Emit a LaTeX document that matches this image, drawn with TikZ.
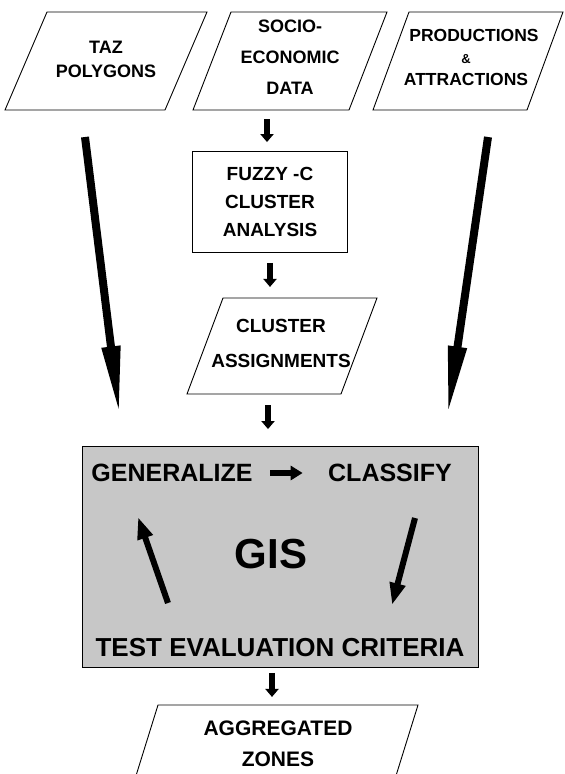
\documentclass[tikz,border=0pt]{standalone}
\usepackage{fontspec}
\setmainfont{Liberation Sans}
\usetikzlibrary{calc}
\usetikzlibrary{arrows.meta}
\usetikzlibrary{positioning}

\tikzset{
  iotext/.style={inner sep=0pt, align=center,
    font=\bfseries\fontsize{18}{24}\selectfont},
  ioframe/.style={line width=0.9pt, line join=miter},
  procbox/.style={rectangle, draw, line width=0.9pt, minimum width=155pt,
    minimum height=101pt, align=center,
    font=\bfseries\fontsize{19}{28}\selectfont},
  gisbox/.style={rectangle, draw, line width=0.9pt, fill=black!22,
    minimum width=396pt, minimum height=221pt},
  gistext/.style={font=\bfseries\fontsize{25}{30}\selectfont},
  stubarrow/.style={line width=6pt, -{Triangle[length=8pt,width=13pt]}},
  fatarrow/.style={line width=8pt, -{Triangle[length=70pt,width=17pt]}},
  looparrow/.style={line width=6pt, -{Triangle[length=22pt,width=15pt]}},
}

\begin{document}
\begin{tikzpicture}[x=1pt,y=-1pt]
  \useasboundingbox (0,0) rectangle (565,774);
  \clip (0,0) rectangle (565,774);

  % input data
  \node[iotext] (taz) at (106,59) {TAZ\\POLYGONS};
  \node[iotext, font=\bfseries\fontsize{18}{31}\selectfont]
    (socio) at (290,57) {SOCIO-\\ECONOMIC\\DATA};
  \node[iotext, font=\bfseries\fontsize{17.5}{22}\selectfont]
    (prod) at (466,57) {\hspace*{16pt}PRODUCTIONS\\{\fontsize{13}{13}\selectfont\&}\\ATTRACTIONS};

  % clustering
  \node[procbox] (fuzzy) at (270,202) {FUZZY -C\\CLUSTER\\ANALYSIS};
  \node[iotext, font=\bfseries\fontsize{19}{35}\selectfont]
    (assign) at (281,343) {CLUSTER\\ASSIGNMENTS};

  % GIS loop
  \node[gisbox] (gis) at (280,557) {};
  \node[gistext] (gen) at (172,473) {GENERALIZE};
  \node[gistext] (class) at (390,473) {CLASSIFY};
  \node[font=\bfseries\fontsize{42}{42}\selectfont] (gisname) at (271,554) {GIS};
  \node[font=\bfseries\fontsize{26}{30}\selectfont] (test) at (280,648)
    {TEST EVALUATION CRITERIA};

  % output
  \node[iotext, font=\bfseries\fontsize{21}{31}\selectfont]
    (agg) at (278,744) {AGGREGATED\\ZONES};

  % parallelogram frames: centre / half side / half height / half slant
  \foreach \cx/\cy/\w/\h/\s in {106/61/80/49/21, 290/61/78/49/19,
      468/61/77/49/18, 282/346/77/48/18, 274/750/130/45/14}
    \draw[ioframe] (\cx-\w+\s,\cy-\h) -- (\cx+\w+\s,\cy-\h)
      -- (\cx+\w-\s,\cy+\h) -- (\cx-\w-\s,\cy+\h) -- cycle;

  % flow
  \draw[stubarrow] ($(fuzzy.north)+(-3,-32)$) -- ($(fuzzy.north)+(-3,-9)$);
  \draw[stubarrow] ($(fuzzy.south)+(0,10)$) -- ($(fuzzy.south)+(0,34)$);
  \draw[stubarrow] ($(gis.north)+(-12,-41)$) -- ($(gis.north)+(-12,-17)$);
  \draw[stubarrow] ($(gis.south)+(-8,5)$) -- ($(gis.south)+(-8,29)$);

  \draw[fatarrow] ($(taz)+(-21,78)$) -- ($(gis.north west)+(38,-30)$);
  \draw[fatarrow] ($(prod)+(22,80)$) -- ($(gis.north east)+(-31,-30)$);

  \draw[line width=6pt, -{Triangle[length=12pt,width=14pt]}]
    ($(gen.east)+(14,0)$) -- ($(class.west)+(-22,0)$);
  \draw[looparrow] ($(gis.center)+(135,-39)$) -- ($(gis.center)+(112,48)$);
  \draw[looparrow] ($(gis.center)+(-112,46)$) -- ($(gis.center)+(-142,-40)$);
\end{tikzpicture}
\end{document}
